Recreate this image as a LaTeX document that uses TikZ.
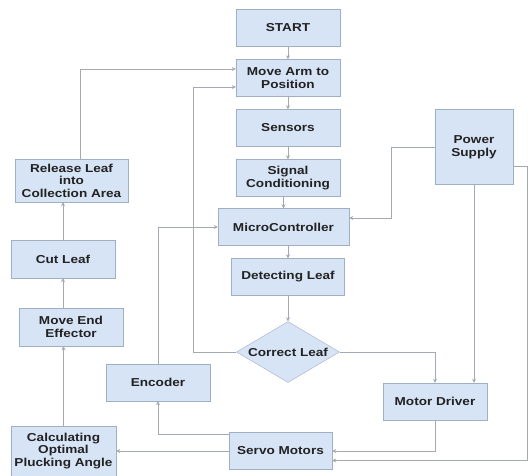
\documentclass[tikz,border=0pt]{standalone}
\usepackage{fontspec}
\newfontfamily\boxfont{Liberation Sans}[FakeStretch=1.18]
\usetikzlibrary{arrows.meta, shapes.geometric, calc}
\definecolor{boxfill}{HTML}{D6E4F5}
\definecolor{boxline}{HTML}{9FB0C4}
\definecolor{wire}{HTML}{A3AAB2}
\definecolor{ink}{HTML}{222222}

\begin{document}
\begin{tikzpicture}[
        x=1pt, y=-1pt,
        box/.style={draw=boxline, fill=boxfill, inner sep=0pt, align=center,
            minimum width=104, minimum height=37},
        decision/.style={diamond, draw=boxline, fill=boxfill, inner sep=0pt,
            aspect=1.7, minimum width=103, minimum height=61},
        pile/.style={draw=wire, thick, -{Stealth[length=4pt, width=4pt]}},
        every node/.style={color=ink, font=\boxfont\bfseries\fontsize{11.5}{12.5}\selectfont}
    ]
    \useasboundingbox (0,0) rectangle (528,475);

    %% main column
    \draw (288,28) node(start)[box]{START};
    \draw (288,78) node(movearm)[box]{Move Arm to\\Position};
    \draw (288,128) node(sensors)[box]{Sensors};
    \draw (288,178) node(signal)[box]{Signal\\Conditioning};
    \draw (283.5,227) node(micro)[box, minimum width=131]{MicroController};
    \draw (288,277) node(detect)[box, minimum width=113]{Detecting Leaf};
    \draw (288,352) node(correct)[decision]{Correct Leaf};

    %% right side
    \draw (474,147) node(power)[box, minimum width=78, minimum height=75]{Power\\Supply};
    \draw (435,401.5) node(motordrv)[box]{Motor Driver};
    \draw (280.5,451) node(servo)[box, minimum width=103]{Servo Motors};
    \draw (158,382.5) node(encoder)[box]{Encoder};

    %% left column
    \draw (63.5,451) node(calc)[box, minimum width=105, minimum height=50]{Calculating\\Optimal\\Plucking Angle};
    \draw (71,327) node(effector)[box, minimum height=38]{Move End\\Effector};
    \draw (63,259) node(cutleaf)[box, minimum height=38]{Cut Leaf};
    \draw (71.5,180.5) node(release)[box, minimum width=113, minimum height=43]{Release Leaf\\into\\Collection Area};

    \draw[pile] (start) -- (movearm);
    \draw[pile] (movearm) -- (sensors);
    \draw[pile] (sensors) -- (signal);
    \draw[pile] (micro.north |- signal.south) -- (micro);
    \draw[pile] (detect.north |- micro.south) -- (detect);
    \draw[pile] (detect) -- (correct);

    \draw[pile] (correct.west) -- ++(-43,0) |- ([yshift=-9pt]movearm.west);
    \draw[pile] (correct.east) -| (motordrv.north);

    \draw[pile] (power.west) -- ++(-43,0) |- ([yshift=9pt]micro.east);
    \draw[pile] (power.south) -- (power.south |- motordrv.north);
    \draw[pile] ([yshift=-19pt]power.east) -- ++(14,0) |- ([yshift=-9.5pt]servo.east);  %% runs along the edge
    \draw[pile] (motordrv.south) |- (servo.east);

    \draw[pile] (servo.west) -- (calc.east);
    \draw[pile] ([yshift=17pt]servo.west) -| (encoder.south);
    \draw[pile] (encoder.north) |- (micro.west);

    \draw[pile] (calc.north) -- (calc.north |- effector.south);
    \draw[pile] (cutleaf.south |- effector.north) -- (cutleaf.south);
    \draw[pile] (cutleaf.north) -- (cutleaf.north |- release.south);
    \draw[pile] ([xshift=8.5pt]release.north) |- ([yshift=9pt]movearm.west);

\end{tikzpicture}
\end{document}
